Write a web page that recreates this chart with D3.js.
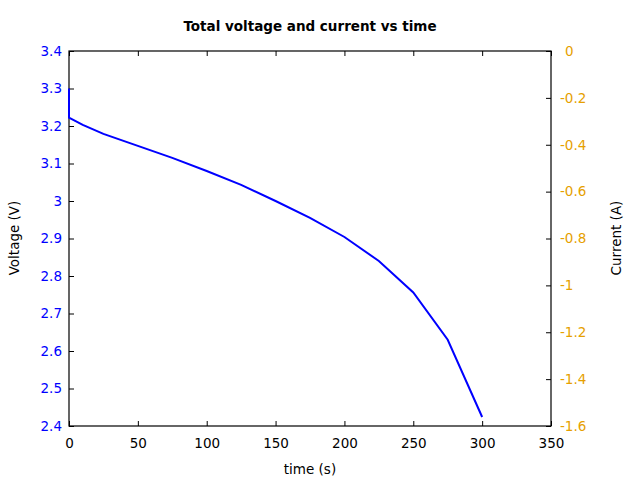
<!DOCTYPE html>
<html>
<head>
<meta charset="utf-8">
<script src="https://cdn.jsdelivr.net/npm/d3@7"></script>
<style>
body { margin: 0; background: #fff; }
text { font-family: "DejaVu Sans", sans-serif; }
</style>
</head>
<body>
<script>
var width = 640,
    height = 480

var margin = {left: 69, right: 89, top: 51, bottom: 54}

// Data
var time = [0, 0, 10, 25, 50, 75, 100, 125, 150, 175, 200, 225, 250, 275, 300]
var voltage = [3.30, 3.222, 3.203, 3.179, 3.147, 3.115, 3.080, 3.043, 3.0, 2.955, 2.904, 2.84, 2.756, 2.630, 2.424]

var xTicks = [0, 50, 100, 150, 200, 250, 300, 350]
var vTicks = [2.4, 2.5, 2.6, 2.7, 2.8, 2.9, 3, 3.1, 3.2, 3.3, 3.4]
var iTicks = [-1.6, -1.4, -1.2, -1, -0.8, -0.6, -0.4, -0.2, 0]

var blue = "#0000ff",
    orange = "#e69f00"

var x = d3.scaleLinear()
    .domain([0, 350])
    .range([margin.left, width - margin.right])

var yV = d3.scaleLinear()
    .domain([2.4, 3.4])
    .range([height - margin.bottom, margin.top])

var yI = d3.scaleLinear()
    .domain([-1.6, 0])
    .range([height - margin.bottom, margin.top])

var svg = d3.select("body").append("svg")
    .attr("width", width)
    .attr("height", height)

var fmt = function(d) { return String(+d.toFixed(2)) }

// bottom axis, ticks pointing in
var xAxis = svg.append("g")
    .attr("transform", "translate(0," + (height - margin.bottom) + ")")
    .call(d3.axisBottom(x).tickValues(xTicks).tickSize(-5).tickPadding(12).tickFormat(fmt))

// top mirror ticks
var xTop = svg.append("g")
    .attr("transform", "translate(0," + margin.top + ")")
    .call(d3.axisTop(x).tickValues(xTicks).tickSize(-5).tickFormat(""))

var yLeft = svg.append("g")
    .attr("transform", "translate(" + margin.left + ",0)")
    .call(d3.axisLeft(yV).tickValues(vTicks).tickSize(-5).tickPadding(7).tickFormat(fmt))

var yRight = svg.append("g")
    .attr("transform", "translate(" + (width - margin.right) + ",0)")
    .call(d3.axisRight(yI).tickValues(iTicks).tickSize(-5).tickPadding(9).tickFormat(fmt))

;[xAxis, xTop, yLeft, yRight].forEach(function(g) {
    g.select(".domain").remove()
    g.selectAll(".tick line").attr("stroke", "#000")
    g.selectAll("text").style("font-size", "13.5px").attr("fill", "#000")
})
yLeft.selectAll("text").attr("fill", blue)
yRight.selectAll("text").attr("fill", orange)
    .attr("text-anchor", "start")
    .attr("x", 9)
// zero label sits a little further right
yRight.selectAll("text").filter(function(d) { return d === 0 }).attr("x", 14)

// frame
svg.append("rect")
    .attr("x", margin.left)
    .attr("y", margin.top)
    .attr("width", width - margin.left - margin.right)
    .attr("height", height - margin.top - margin.bottom)
    .attr("fill", "none")
    .attr("stroke", "#000")
    .attr("stroke-width", 1.2)

var line = d3.line()
    .x(function(d, i) { return x(time[i]) })
    .y(function(d) { return yV(d) })

svg.append("path")
    .datum(voltage)
    .attr("d", line)
    .attr("fill", "none")
    .attr("stroke", blue)
    .attr("stroke-width", 2)

// titles
svg.append("text")
    .attr("x", 310)
    .attr("y", 31)
    .attr("text-anchor", "middle")
    .style("font-size", "13.5px")
    .style("font-weight", "bold")
    .text("Total voltage and current vs time")

svg.append("text")
    .attr("x", 310)
    .attr("y", 474)
    .attr("text-anchor", "middle")
    .style("font-size", "13.5px")
    .text("time (s)")

svg.append("text")
    .attr("transform", "translate(19,238) rotate(-90)")
    .attr("text-anchor", "middle")
    .style("font-size", "13.5px")
    .text("Voltage (V)")

svg.append("text")
    .attr("transform", "translate(621,238) rotate(-90)")
    .attr("text-anchor", "middle")
    .style("font-size", "13.5px")
    .text("Current (A)")
</script>
</body>
</html>
